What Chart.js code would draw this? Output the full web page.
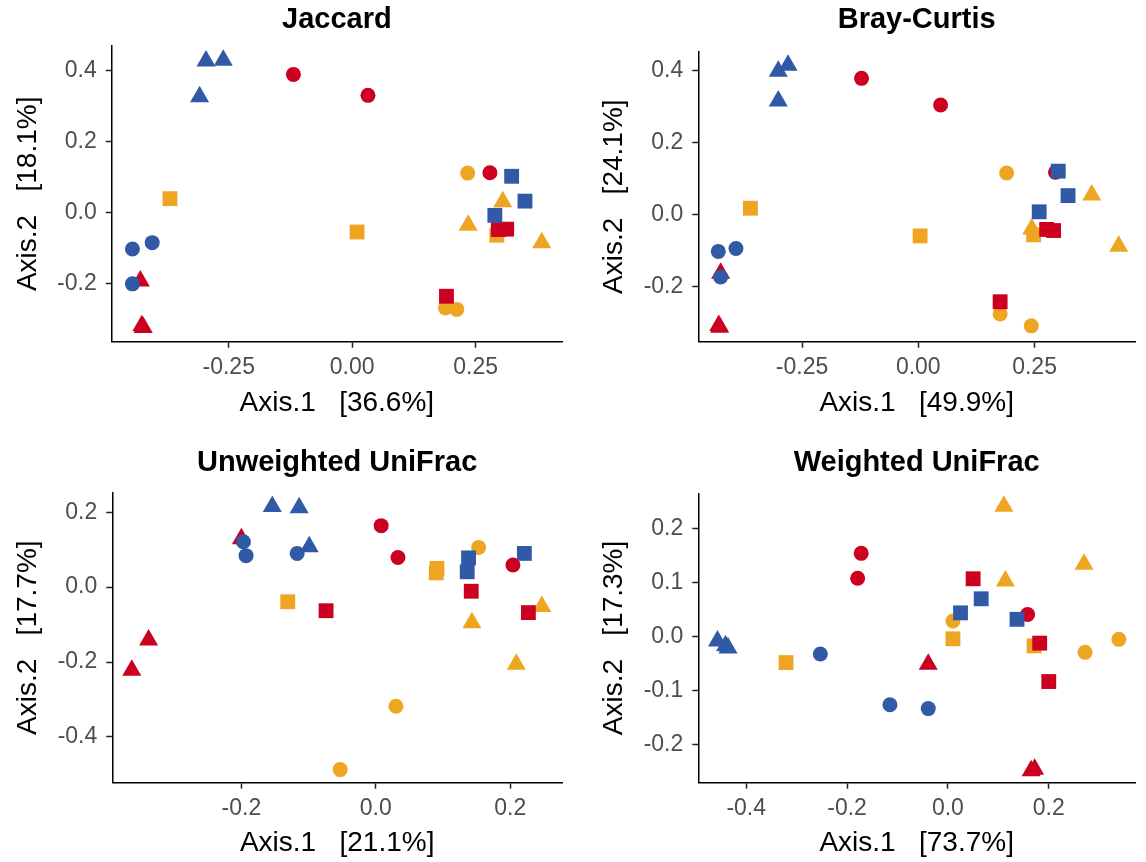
<!DOCTYPE html>
<html lang="en">
<head>
<meta charset="UTF-8">
<title>PCoA ordinations</title>
<script src="https://cdn.jsdelivr.net/npm/chart.js"></script>
<style>
    body { margin: 0; background: #fff; }
    .grid { position: relative; width: 1146px; height: 862px; }
    .panel { position: absolute; width: 573px; height: 431px; }
</style>
</head>
<body>
<div class="grid">
    <div class="panel" style="left:0;top:0"><canvas id="jaccard" width="573" height="431"></canvas></div>
    <div class="panel" style="left:573px;top:0"><canvas id="braycurtis" width="573" height="431"></canvas></div>
    <div class="panel" style="left:0;top:431px"><canvas id="unifrac" width="573" height="431"></canvas></div>
    <div class="panel" style="left:573px;top:431px"><canvas id="wunifrac" width="573" height="431"></canvas></div>
</div>
<script>
// 9 groups (colour x shape), 3 samples each, same order in every panel
const groupColor = ['#3059a6', '#3059a6', '#3059a6', '#cc0020', '#cc0020', '#cc0020', '#eea622', '#eea622', '#eea622'];
const groupShape = ['circle', 'triangle', 'rect', 'circle', 'triangle', 'rect', 'circle', 'triangle', 'rect'];

// Jaccard
const jaccardX = [
    -0.445, -0.405, -0.445,
    -0.296, -0.261, -0.309,
    0.323, 0.350, 0.289,
    -0.119, 0.032, 0.279,
    -0.429, -0.423, -0.426,
    0.296, 0.313, 0.191,
    0.234, 0.189, 0.212,
    0.305, 0.235, 0.384,
    -0.369, 0.010, 0.293
];
const jaccardY = [
    -0.102, -0.084, -0.200,
    0.428, 0.430, 0.327,
    0.103, 0.033, -0.007,
    0.390, 0.331, 0.113,
    -0.192, -0.323, -0.318,
    -0.047, -0.046, -0.235,
    0.112, -0.268, -0.272,
    0.031, -0.035, -0.084,
    0.040, -0.054, -0.063
];

// Bray-Curtis
const braycurtisX = [
    -0.430, -0.392, -0.425,
    -0.301, -0.280, -0.301,
    0.301, 0.322, 0.260,
    -0.122, 0.048, 0.295,
    -0.425, -0.427, -0.429,
    0.276, 0.291, 0.176,
    0.190, 0.176, 0.243,
    0.373, 0.244, 0.431,
    -0.361, 0.004, 0.248
];
const braycurtisY = [
    -0.102, -0.094, -0.173,
    0.399, 0.415, 0.316,
    0.121, 0.053, 0.008,
    0.379, 0.305, 0.118,
    -0.163, -0.313, -0.308,
    -0.041, -0.044, -0.242,
    0.116, -0.276, -0.309,
    0.055, -0.040, -0.088,
    0.018, -0.059, -0.056
];

// Unweighted UniFrac
const unifracX = [
    -0.197, -0.193, -0.117,
    -0.154, -0.114, -0.099,
    0.138, 0.136, 0.221,
    0.008, 0.033, 0.204,
    -0.200, -0.338, -0.363,
    -0.074, 0.142, 0.227,
    0.153, 0.030, -0.053,
    0.143, 0.247, 0.209,
    -0.131, 0.091, 0.090
];
const unifracY = [
    0.121, 0.084, 0.090,
    0.215, 0.212, 0.108,
    0.078, 0.041, 0.090,
    0.164, 0.079, 0.059,
    0.129, -0.141, -0.222,
    -0.063, -0.011, -0.068,
    0.106, -0.318, -0.487,
    -0.095, -0.052, -0.206,
    -0.039, 0.050, 0.038
];

// Weighted UniFrac
const wunifracX = [
    -0.253, -0.115, -0.039,
    -0.457, -0.441, -0.436,
    0.066, 0.025, 0.137,
    -0.172, -0.179, 0.158,
    -0.039, 0.172, 0.165,
    0.050, 0.182, 0.200,
    0.010, 0.272, 0.339,
    0.111, 0.270, 0.114,
    0.010, 0.171, -0.321
];
const wunifracY = [
    -0.032, -0.126, -0.133,
    -0.008, -0.017, -0.021,
    0.070, 0.044, 0.032,
    0.154, 0.108, 0.041,
    -0.051, -0.245, -0.248,
    0.107, -0.012, -0.083,
    0.029, -0.029, -0.005,
    0.241, 0.134, 0.103,
    -0.004, -0.017, -0.048
];

const FONT = "'Liberation Sans', Arial, Helvetica, sans-serif";
const pointRadius = { circle: 7.5, triangle: 11, rect: 10.5 };

function makePanel(id, p) {
    const datasets = groupColor.map((c, g) => ({
        data: [0, 1, 2].map(k => ({ x: p.xs[g * 3 + k], y: p.ys[g * 3 + k] })),
        pointStyle: groupShape[g],
        pointRadius: pointRadius[groupShape[g]],
        pointBackgroundColor: c,
        pointBorderWidth: 0,
        clip: false
    }));
    const axisBase = {
        border: { display: true, color: '#000', width: 1.5 },
        grid: { drawOnChartArea: false, tickLength: 6, tickColor: '#222', tickWidth: 1.5 }
    };
    new Chart(document.getElementById(id), {
        type: 'scatter',
        data: { datasets },
        options: {
            responsive: false,
            animation: false,
            layout: { padding: { left: 0, right: p.padRight, top: 0, bottom: 0 } },
            plugins: {
                legend: { display: false },
                tooltip: { enabled: false },
                title: {
                    display: true,
                    text: p.title,
                    fullSize: false,
                    color: '#000',
                    font: { family: FONT, size: 29, weight: 'bold' },
                    padding: { top: p.titleTop, bottom: p.titleBottom }
                }
            },
            scales: {
                x: {
                    ...axisBase,
                    min: p.xRange[0], max: p.xRange[1],
                    afterBuildTicks: s => { s.ticks = p.xTicks.map(v => ({ value: v })); },
                    afterFit: s => { s.height = p.xAxisH; },
                    ticks: {
                        autoSkip: false, maxRotation: 0, padding: 6, color: '#4d4d4d',
                        font: { family: FONT, size: 23 },
                        callback: v => v.toFixed(p.xDec)
                    },
                    title: {
                        display: true, text: p.xLabel, color: '#000',
                        font: { family: FONT, size: 28 },
                        padding: { top: 0, bottom: p.xTitlePad }
                    }
                },
                y: {
                    ...axisBase,
                    min: p.yRange[0], max: p.yRange[1],
                    afterBuildTicks: s => { s.ticks = p.yTicks.map(v => ({ value: v })); },
                    afterFit: s => { s.width = p.yAxisW; },
                    ticks: {
                        autoSkip: false, padding: 9, color: '#4d4d4d',
                        font: { family: FONT, size: 23 },
                        callback: v => v.toFixed(p.yDec)
                    },
                    title: {
                        display: true, text: p.yLabel, color: '#000',
                        font: { family: FONT, size: 28 },
                        padding: { top: p.yTitlePad, bottom: 0 }
                    }
                }
            }
        }
    });
}

makePanel('jaccard', {
    title: 'Jaccard', xLabel: 'Axis.1   [36.6%]', yLabel: 'Axis.2   [18.1%]',
    xs: jaccardX, ys: jaccardY,
    xRange: [-0.487, 0.425], yRange: [-0.363, 0.470],
    xTicks: [-0.25, 0, 0.25], yTicks: [-0.2, 0, 0.2, 0.4], xDec: 2, yDec: 1,
    yAxisW: 111.7, xAxisH: 89.3, padRight: 10,
    titleTop: 2.5, titleBottom: 8.7, xTitlePad: 11, yTitlePad: 11.2
});
makePanel('braycurtis', {
    title: 'Bray-Curtis', xLabel: 'Axis.1   [49.9%]', yLabel: 'Axis.2   [24.1%]',
    xs: braycurtisX, ys: braycurtisY,
    xRange: [-0.473, 0.466], yRange: [-0.353, 0.453],
    xTicks: [-0.25, 0, 0.25], yTicks: [-0.2, 0, 0.2, 0.4], xDec: 2, yDec: 1,
    yAxisW: 125.3, xAxisH: 89.3, padRight: 1,
    titleTop: 2.5, titleBottom: 14.4, xTitlePad: 11, yTitlePad: 24.2
});
makePanel('unifrac', {
    title: 'Unweighted UniFrac', xLabel: 'Axis.1   [21.1%]', yLabel: 'Axis.2   [17.7%]',
    xs: unifracX, ys: unifracY,
    xRange: [-0.392, 0.277], yRange: [-0.522, 0.252],
    xTicks: [-0.2, 0, 0.2], yTicks: [-0.4, -0.2, 0, 0.2], xDec: 1, yDec: 1,
    yAxisW: 112.3, xAxisH: 79.3, padRight: 10,
    titleTop: 14.8, titleBottom: 12.1, xTitlePad: 1.6, yTitlePad: 11.2
});
makePanel('wunifrac', {
    title: 'Weighted UniFrac', xLabel: 'Axis.1   [73.7%]', yLabel: 'Axis.2   [17.3%]',
    xs: wunifracX, ys: wunifracY,
    xRange: [-0.495, 0.371], yRange: [-0.270, 0.265],
    xTicks: [-0.4, -0.2, 0, 0.2], yTicks: [-0.2, -0.1, 0, 0.1, 0.2], xDec: 1, yDec: 1,
    yAxisW: 125.3, xAxisH: 79.3, padRight: 1,
    titleTop: 14.8, titleBottom: 12.7, xTitlePad: 1.6, yTitlePad: 24.2
});
</script>
</body>
</html>
